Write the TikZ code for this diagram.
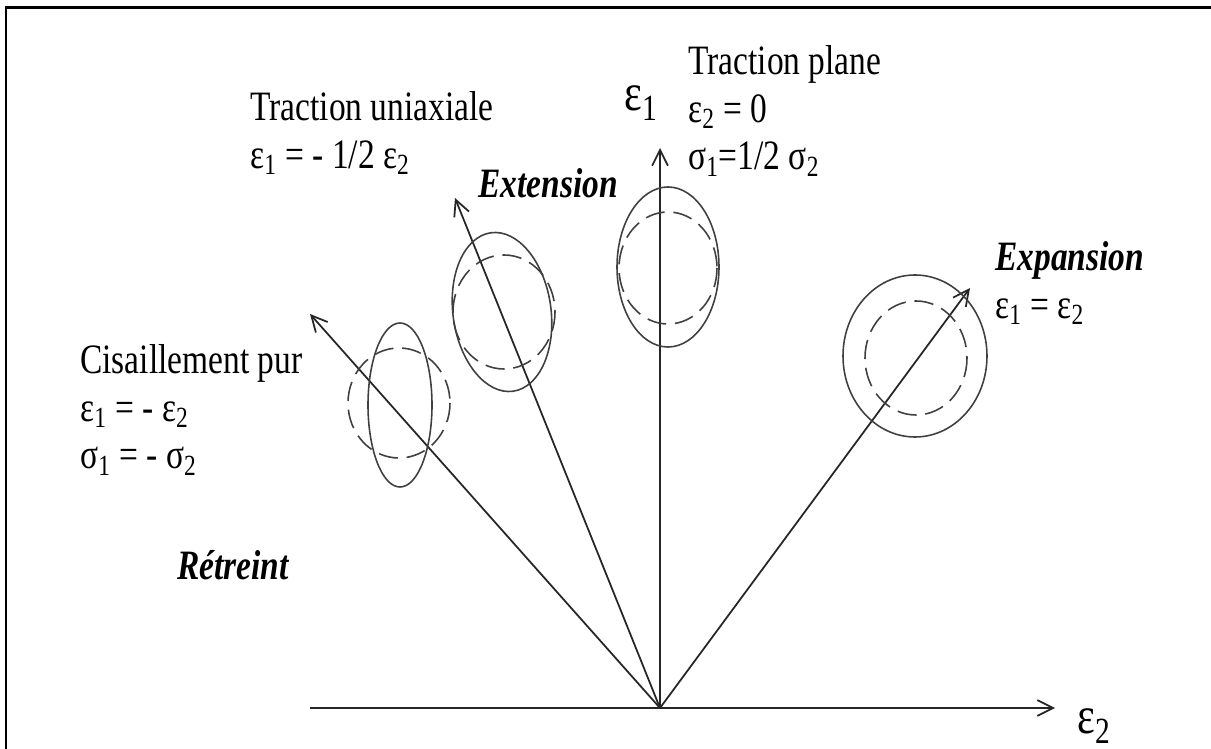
\documentclass[tikz,border=0pt]{standalone}
\usepackage{fontspec}
\setmainfont{Liberation Serif}[FakeStretch=0.8]
\usetikzlibrary{arrows.meta}

\begin{document}
\begin{tikzpicture}[x=0.02cm, y=-0.02cm, >={Straight Barb[length=9pt, width=9pt]},
    txt/.style={font=\fontsize{23.8}{27.2}\selectfont, inner sep=0pt, align=left},
    axlbl/.style={font=\fontsize{30}{30}\selectfont, inner sep=0pt},
    vec/.style={->, line width=1pt, black!85},
    outline/.style={line width=0.9pt, black!75},
    ring/.style={outline, dash pattern=on 11pt off 5pt}]
    \useasboundingbox (0,0) rectangle (1211,749);
    % cadre
    \draw[line width=1.7pt] (1211,8) -- (6,8) -- (6,749);

    % 1. Axes
    \coordinate (O) at (660,708);
    \coordinate (xgauche) at (310,708);
    \coordinate (xdroite) at (1055,708);
    \coordinate (yhaut) at (660,148);
    \draw[vec] (xgauche) -- (xdroite);
    \draw[vec] (O) -- (yhaut);
    \node[axlbl] (eps2) at (1094,726) {ε\textsubscript{2}};
    \node[axlbl] (eps1) at (641,103) {ε\textsubscript{1}};

    % 2. Directions de chargement
    \coordinate (pCis) at (310,314);
    \coordinate (pUni) at (455,198);
    \coordinate (pExp) at (970,288);
    \draw[vec] (O) -- (pCis);
    \draw[vec] (O) -- (pUni);
    \draw[vec] (O) -- (pExp);

    % 3. Cercles et ellipses
    \draw[outline] (400,405) ellipse [x radius=32, y radius=82];
    \draw[ring] (399,403) ellipse [x radius=51, y radius=55];
    \draw[outline, rotate around={8:(502,312)}] (502,312) ellipse [x radius=49, y radius=80];
    \draw[ring] (504,312) ellipse [x radius=51, y radius=57];
    \draw[outline] (668,267) ellipse [x radius=51, y radius=80];
    \draw[ring] (668,268) ellipse [x radius=49, y radius=56];
    \draw[outline] (915,356) ellipse [x radius=72, y radius=81];
    \draw[ring] (916,358) ellipse [x radius=51, y radius=57];

    % 4. Textes
    \node[txt, anchor=north west] (plane) at (688,45)
        {Traction plane\\ ε\textsubscript{2} = 0\\ σ\textsubscript{1}=1/2 σ\textsubscript{2}};
    \node[txt, anchor=north west] (uni) at (250,91)
        {Traction uniaxiale\\ ε\textsubscript{1} = - 1/2 ε\textsubscript{2}};
    \node[txt, anchor=north west] (cis) at (80,344)
        {Cisaillement pur\\ ε\textsubscript{1} = - ε\textsubscript{2}\\ σ\textsubscript{1} = - σ\textsubscript{2}};
    \node[txt, anchor=base west] (ext) at (478,198) {\textbf{\textit{Extension}}};
    \node[txt, anchor=north west] (expn) at (995,241)
        {\textbf{\textit{Expansion}}\\ ε\textsubscript{1} = ε\textsubscript{2}};
    \node[txt, anchor=base west] (ret) at (177,580) {\textbf{\textit{Rétreint}}};
\end{tikzpicture}
\end{document}
